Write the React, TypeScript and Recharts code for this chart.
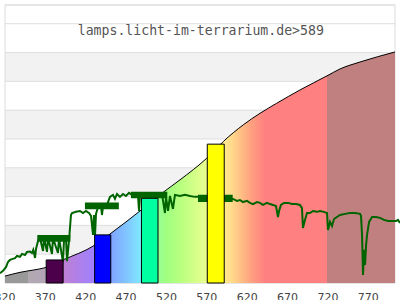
import React from 'react';
import { ComposedChart, Area, Line, XAxis, YAxis, CartesianGrid, ReferenceArea } from 'recharts';

const xTicks = [320, 370, 420, 470, 520, 570, 620, 670, 720, 770];
const yTicks = [0, 1, 2, 3, 4, 5, 6, 7, 8, 9];
const title = 'lamps.licht-im-terrarium.de>589';

// sensitivity curve (wavelength, value)
const curveWl = [320, 338.6, 355, 369.5, 391.5, 431.5, 450, 487.2, 516, 536.7, 569.8, 590.3, 615.1, 635.8, 656.5, 685.3, 718.8, 734.9, 759.6, 803];
const curveVal = [0.24, 0.37, 0.45, 0.53, 0.8, 1.32, 1.7, 2.5, 3.15, 3.58, 4.33, 4.91, 5.49, 5.89, 6.24, 6.7, 7.19, 7.43, 7.67, 8.02];

// bins
const barStart = [371, 431, 489, 570.5];
const barEnd = [392, 451, 509.5, 591.5];
const barValue = [0.8, 1.67, 2.94, 4.82];
const barColor = ['#4c004c', '#0000ff', '#00ffa0', '#ffff00'];

// averaged bands
const bandStart = [360, 419, 476, 559];
const bandEnd = [401, 461, 521, 602];
const bandLow = [1.43, 2.56, 2.94, 2.81];
const bandHigh = [1.67, 2.79, 3.17, 3.06];

// measured spectrum (wavelength, value)
const spectrum: [number, number][] = [
  [313.8, 0.34], [317.5, 0.42], [321.2, 0.55], [323.7, 0.73], [326.2, 0.8], [328.7, 0.83], [332.4, 0.86], [334.9, 0.94],
  [338.6, 0.91], [341.1, 1.01], [344.8, 0.97], [347.2, 1.08], [351.0, 1.09], [353.4, 1.04], [355.0, 1.15], [357.2, 0.87],
  [358.4, 1.18], [361.2, 1.49], [363.3, 1.56], [367.1, 1.11], [368.3, 1.56], [372.0, 1.08], [373.3, 1.56], [378.2, 1.01],
  [379.4, 1.56], [385.6, 1.04], [386.9, 1.56], [391.8, 0.73], [393.1, 1.49], [395.5, 1.56], [396.8, 0.76], [399.3, 1.49],
  [401.7, 2.36], [403.0, 2.43], [407.9, 2.47], [412.9, 2.5], [416.6, 2.43], [420.3, 2.5], [424.0, 2.43], [426.5, 2.33],
  [429.0, 1.67], [430.2, 2.36], [431.5, 1.67], [432.7, 2.4], [435.2, 2.64], [438.9, 2.67], [440.1, 2.36], [441.4, 2.67],
  [446.3, 2.71], [450.0, 2.99], [453.7, 3.06], [456.2, 2.92], [458.7, 3.09], [462.4, 2.99], [466.1, 3.09], [469.8, 3.02],
  [473.6, 3.13], [477.3, 3.06], [481.0, 3.09], [484.7, 3.02], [486.0, 2.5], [487.2, 3.02], [492.2, 3.06], [499.6, 3.09],
  [507.0, 3.06], [514.4, 3.09], [518.1, 2.43], [519.4, 2.99], [521.9, 2.5], [524.3, 3.02], [528.0, 2.57], [530.5, 3.06],
  [536.7, 3.02], [542.9, 3.06], [549.1, 3.02], [555.3, 2.99], [561.5, 2.99], [570, 2.95], [580, 2.95], [590, 2.93],
  [602.4, 2.92], [607.3, 2.85], [611.0, 2.88], [614.7, 2.81], [619.7, 2.85], [623.4, 2.78], [627.1, 2.74], [632.1, 2.81],
  [635.8, 2.78], [639.5, 2.71], [644.5, 2.78], [648.2, 2.74], [651.9, 2.71], [655.6, 2.67], [658.1, 2.29], [659.4, 2.5],
  [661.8, 2.71], [665.5, 2.78], [670.5, 2.78], [675.4, 2.74], [680.4, 2.74], [685.3, 2.71], [687.8, 2.6], [689.0, 1.91],
  [691.5, 2.19], [694.0, 2.43], [697.7, 2.43], [701.4, 2.5], [706.4, 2.47], [710.1, 2.5], [715.0, 2.47], [718.8, 2.43],
  [720.0, 1.84], [722.5, 2.12], [725.0, 1.98], [727.5, 2.22], [731.1, 2.29], [734.9, 2.36], [741.1, 2.4], [747.3, 2.43],
  [753.5, 2.43], [759.7, 2.4], [760.9, 2.33], [762.2, 1.67], [763.4, 0.28], [764.7, 1.15], [765.9, 0.63], [767.2, 1.32],
  [768.4, 1.67], [770.9, 2.12], [774.6, 2.29], [779.5, 2.29], [784.5, 2.26], [789.4, 2.19], [794.4, 2.15], [799.3, 2.15],
  [804.3, 2.15], [806.7, 2.19], [809.2, 2.08],
];

// spectrum gradient stops
const gradWl = [320, 348.3, 348.5, 371, 380, 392, 410, 430, 451, 470, 488, 509, 520, 540, 560, 572, 590, 600, 612, 625, 642, 718.8, 719, 803];
const gradColor = ['#999999', '#999999', '#b0aab0', '#b4a4b8', '#c080c8', '#c080d4', '#b080e8', '#a080ff', '#80a4ff', '#80c4ff',
  '#80e8ff', '#98ff98', '#a0ff80', '#bcff80', '#dcff8c', '#ecff90', '#ffec90', '#ffdc8c', '#ffc084', '#ffa080', '#ff8080',
  '#ff8080', '#c08080', '#c08080'];

const X_MIN = 320;
const X_MAX = 803;
const Y_MAX = 9.65;
const stripeFill = ['#ffffff', '#ffffff', '#f2f2f2', '#ffffff', '#f2f2f2', '#ffffff', '#f2f2f2', '#ffffff', '#f2f2f2', '#ffffff'];

export default function App() {
  const curve = curveWl.map((wl, i) => ({ wl, v: curveVal[i] }));
  const spec = spectrum.map(([wl, v]) => ({ wl, v }));
  return (
    <div style={{ position: 'absolute', left: 0, top: 0, width: 400, height: 300, background: '#fff' }}>
      <ComposedChart width={400} height={300} margin={{ top: 5, right: 5, left: 5, bottom: 0 }}>
        <defs>
          <linearGradient id="specGrad" x1="0" y1="0" x2="1" y2="0">
            {gradWl.map((wl, i) => (
              <stop key={i} offset={(wl - X_MIN) / (X_MAX - X_MIN)} stopColor={gradColor[i]} />
            ))}
          </linearGradient>
        </defs>
        <CartesianGrid vertical={false} stroke="#dedede" horizontalFill={stripeFill} fillOpacity={1} />
        <XAxis
          type="number"
          dataKey="wl"
          domain={[X_MIN, X_MAX]}
          ticks={xTicks}
          interval={0}
          axisLine={false}
          tickLine={false}
          tickMargin={4.5}
          height={17}
          tick={{ fill: '#444', fontSize: 11, fontFamily: 'DejaVu Sans' }}
        />
        <XAxis xAxisId="line" type="number" dataKey="wl" domain={[313.8, 809.2]} hide padding={{ left: -5, right: -5 }} />
        <YAxis type="number" domain={[0, Y_MAX]} ticks={yTicks} hide />
        <ReferenceArea x1={X_MIN} x2={X_MAX} y1={0} y2={Y_MAX} fill="none" fillOpacity={0} stroke="#dcdcdc" strokeWidth={1} zIndex={50} />
        <Area
          data={curve}
          dataKey="v"
          type="monotone"
          stroke="#000"
          strokeWidth={1}
          fill="url(#specGrad)"
          fillOpacity={1}
          isAnimationActive={false}
          dot={false}
          activeDot={false}
          zIndex={100}
        />
        <Line
          data={spec}
          xAxisId="line"
          dataKey="v"
          type="linear"
          stroke="#006400"
          strokeWidth={2}
          dot={false}
          activeDot={false}
          isAnimationActive={false}
          zIndex={400}
        />
        {bandStart.map((s, i) => (
          <ReferenceArea key={'b' + i} x1={s} x2={bandEnd[i]} y1={bandLow[i]} y2={bandHigh[i]} fill="#006400" fillOpacity={1} stroke="none" zIndex={450} />
        ))}
        {barStart.map((s, i) => (
          <ReferenceArea key={'r' + i} x1={s} x2={barEnd[i]} y1={0} y2={barValue[i]} fill={barColor[i]} fillOpacity={1} stroke="#000" strokeWidth={1} zIndex={500} />
        ))}
      </ComposedChart>
      <svg width={400} height={300} style={{ position: 'absolute', left: 0, top: 0, pointerEvents: 'none' }}>
        <text x={200.8} y={34.7} textAnchor="middle" fontFamily="DejaVu Sans Mono" fontSize={13.2} fill="#555">
          {title}
        </text>
      </svg>
    </div>
  );
}
